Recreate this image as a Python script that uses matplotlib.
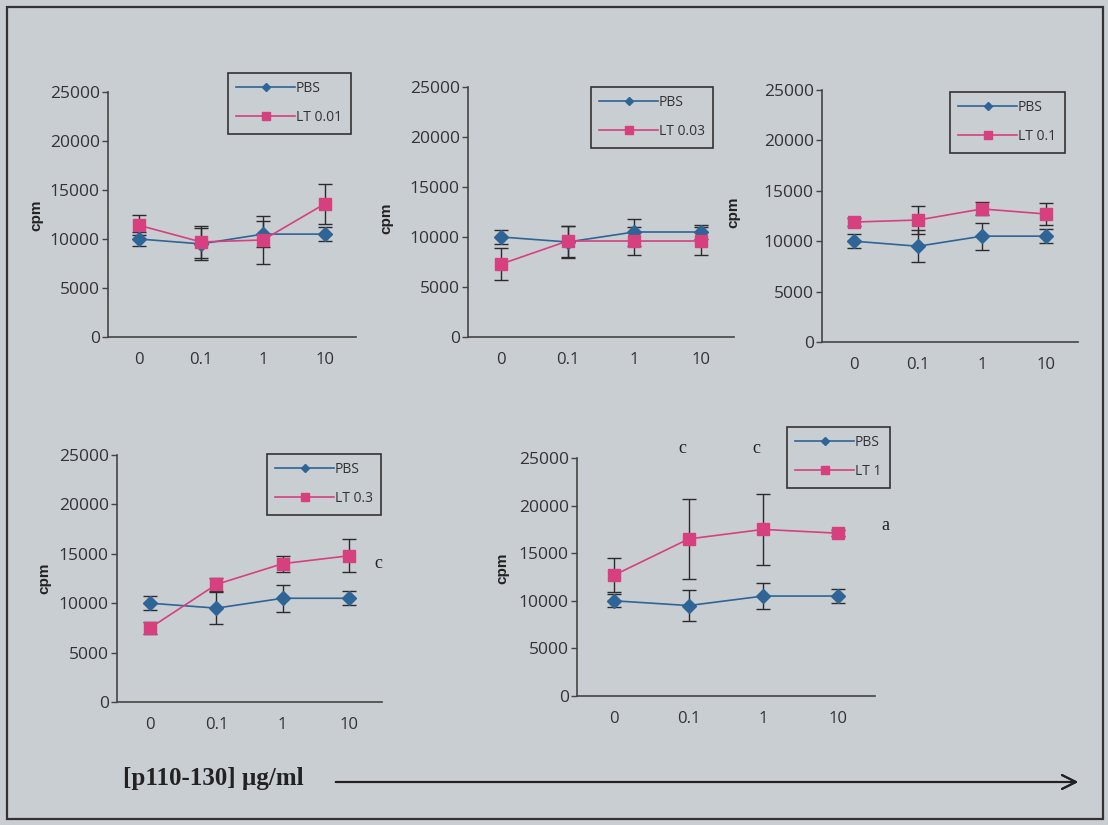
import matplotlib
matplotlib.use("Agg")
import matplotlib.pyplot as plt
from matplotlib.patches import Rectangle

# ====================================
# DATA
# ====================================

doses = ["0", "0.1", "1", "10"]

pbs_mean = [10000, 9500, 10500, 10500]
pbs_err = [700, 1600, 1350, 700]

lt_names = ["LT 0.01", "LT 0.03", "LT 0.1", "LT 0.3", "LT 1"]

lt001_mean = [11400, 9700, 9900, 13600]
lt001_err = [1000, 1600, 2450, 2050]

lt003_mean = [7300, 9600, 9600, 9600]
lt003_err = [1600, 1550, 1400, 1400]

lt01_mean = [11900, 12100, 13200, 12700]
lt01_err = [400, 1400, 650, 1100]

lt03_mean = [7500, 11900, 14000, 14800]
lt03_err = [600, 700, 800, 1650]

lt1_mean = [12700, 16500, 17500, 17100]
lt1_err = [1800, 4200, 3700, 300]

lt_means = [lt001_mean, lt003_mean, lt01_mean, lt03_mean, lt1_mean]
lt_errs = [lt001_err, lt003_err, lt01_err, lt03_err, lt1_err]

# significance letters: panel index, dose index, letter
sig_marks = [(3, 3, "c"), (4, 1, "c"), (4, 2, "c"), (4, 3, "a")]

# ====================================
# LAYOUT (pixels)
# ====================================

W, H = 1108, 825
BG = "#c9ced3"
BLUE = "#2f6496"
PINK = "#d6407f"
ERR = "#2b2b2b"

# axes boxes: left, right, top(25000), bottom(0)
boxes = [
    (108, 356, 92, 337),
    (468, 734, 87, 337),
    (822, 1078, 90, 342),
    (117, 382, 455, 702),
    (577, 875, 458, 696),
]
legend_corners = [(228, 73), (591, 87), (950, 92), (267, 454), (787, 427)]
ylabel_pos = [(36, 215), (386, 218), (733, 212), (44, 578), (502, 568)]
sig_pos = {(3, 3): (378, 564), (4, 1): (682, 448), (4, 2): (756, 448), (4, 3): (885, 525)}

plt.rcParams["font.family"] = ["Open Sans", "DejaVu Sans"]

fig = plt.figure(figsize=(W / 100, H / 100), dpi=100)
fig.patch.set_facecolor(BG)

# outer frame
fig.patches.append(Rectangle((7 / W, 1 - 819 / H), 1096 / W, 812 / H,
                             transform=fig.transFigure, fill=False,
                             edgecolor="#333333", linewidth=1.6))

x = list(range(len(doses)))

# ====================================
# PANELS
# ====================================

for i, (l, r, t, b) in enumerate(boxes):

    ax = fig.add_axes([l / W, 1 - b / H, (r - l) / W, (b - t) / H])
    ax.set_facecolor("none")

    # error bars
    ax.errorbar(x, pbs_mean, yerr=pbs_err, fmt="none", ecolor=ERR,
                elinewidth=1, capsize=5, capthick=1, zorder=2)
    ax.errorbar(x, lt_means[i], yerr=lt_errs[i], fmt="none", ecolor=ERR,
                elinewidth=1, capsize=5, capthick=1, zorder=2)

    # series lines with markers
    ax.plot(x, pbs_mean, color=BLUE, linewidth=1.2, marker="D",
            markersize=7.5, markerfacecolor=BLUE, markeredgecolor=BLUE,
            label="PBS", zorder=3)
    ax.plot(x, lt_means[i], color=PINK, linewidth=1.2, marker="s",
            markersize=9, markerfacecolor=PINK, markeredgecolor=PINK,
            label=lt_names[i], zorder=4)

    ax.set_xlim(-0.5, 3.5)
    ax.set_ylim(0, 25000)
    ax.set_xticks(x)
    ax.set_xticklabels(doses)
    ax.set_yticks([0, 5000, 10000, 15000, 20000, 25000])

    ax.spines["top"].set_visible(False)
    ax.spines["right"].set_visible(False)
    for side in ["left", "bottom"]:
        ax.spines[side].set_color("#444444")
        ax.spines[side].set_linewidth(1.2)

    ax.tick_params(axis="y", length=4, width=1, color="#444444",
                   labelsize=12.5, labelcolor="#333333", pad=2)
    ax.tick_params(axis="x", length=0, labelsize=12,
                   labelcolor="#333333", pad=11)

    lx, ly = legend_corners[i]
    leg = ax.legend(loc="upper left", bbox_to_anchor=(lx / W, 1 - ly / H),
                    bbox_transform=fig.transFigure, borderaxespad=0,
                    fontsize=10, handlelength=4.2, handletextpad=0.1,
                    labelspacing=1.0, borderpad=0.6, markerscale=0.6,
                    fancybox=False, framealpha=1)
    leg.get_frame().set_facecolor(BG)
    leg.get_frame().set_edgecolor("#333333")
    leg.get_frame().set_linewidth(1.2)
    for txt in leg.get_texts():
        txt.set_color("#333333")

    px, py = ylabel_pos[i]
    fig.text(px / W, 1 - py / H, "cpm", rotation=90, ha="center",
             va="center", fontsize=11, fontweight="bold",
             family=["Liberation Sans", "DejaVu Sans"], color="#222222")

# ====================================
# SIGNIFICANCE LETTERS
# ====================================

for panel, dose, letter in sig_marks:
    px, py = sig_pos[(panel, dose)]
    fig.text(px / W, 1 - py / H, letter, ha="center", va="center",
             fontsize=13, family=["Liberation Serif"], color="#222222")

# ====================================
# DOSE AXIS LABEL AND ARROW
# ====================================

fig.text(123 / W, 1 - 779 / H, "[p110-130] \u00b5g/ml", ha="left",
         va="center", fontsize=18, fontweight="bold",
         family=["Liberation Serif"], color="#222222")

fig.add_artist(plt.annotate("", xy=(1081 / W, 1 - 782 / H),
                            xytext=(333 / W, 1 - 782 / H),
                            xycoords="figure fraction",
                            textcoords="figure fraction",
                            arrowprops=dict(arrowstyle="->", lw=1.5,
                                            color="#222222",
                                            mutation_scale=25)))

plt.savefig("out.png", dpi=100, facecolor=BG)
